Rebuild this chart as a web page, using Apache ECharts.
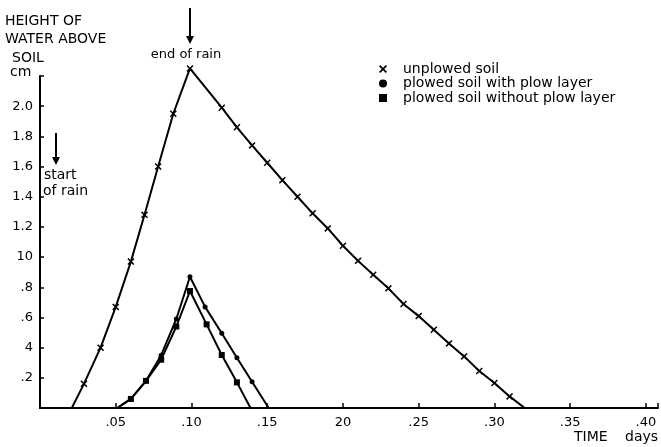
<!DOCTYPE html>
<html><head><meta charset="utf-8">
<script src="https://cdn.jsdelivr.net/npm/echarts@6/dist/echarts.min.js"></script>
<style>html,body{margin:0;padding:0;background:#fff}#c{width:661px;height:447px}</style>
</head><body><div id="c"></div>
<script>
// ---- data ----
const seriesNames = ['unplowed soil', 'plowed soil with plow layer', 'plowed soil without plow layer'];

const unplowedX = [0.021, 0.029, 0.040, 0.050, 0.060, 0.069, 0.078, 0.088, 0.099,
  0.12, 0.13, 0.14, 0.15, 0.16, 0.17, 0.18, 0.19, 0.20, 0.21, 0.22, 0.23, 0.24, 0.25,
  0.26, 0.27, 0.28, 0.29, 0.30, 0.31, 0.32];
const unplowedY = [0, 0.16, 0.40, 0.67, 0.97, 1.28, 1.60, 1.95, 2.25,
  1.99, 1.86, 1.74, 1.625, 1.51, 1.40, 1.29, 1.19, 1.075, 0.975, 0.883, 0.793, 0.689, 0.609,
  0.519, 0.428, 0.342, 0.245, 0.166, 0.077, 0];

const withLayerX = [0.051, 0.060, 0.070, 0.080, 0.090, 0.099, 0.109, 0.120, 0.130, 0.140, 0.151];
const withLayerY = [0, 0.06, 0.18, 0.35, 0.59, 0.87, 0.67, 0.495, 0.333, 0.174, 0];

const withoutLayerX = [0.051, 0.060, 0.070, 0.080, 0.090, 0.099, 0.110, 0.120, 0.130, 0.139];
const withoutLayerY = [0, 0.06, 0.18, 0.32, 0.54, 0.775, 0.554, 0.351, 0.170, 0];

const xTickValues = [0.05, 0.10, 0.15, 0.20, 0.25, 0.30, 0.35, 0.40];
const xTickLabels = ['.05', '.10', '.15', '20', '.25', '.30', '.35', '.40'];
const yTickValues = [0.2, 0.4, 0.6, 0.8, 1.0, 1.2, 1.4, 1.6, 1.8, 2.0];
const yTickLabels = ['.2', '4', '.6', '.8', '10', '1.2', '1.4', '1.6', '1.8', '2.0'];

// ---- styling ----
const FONT = 'DejaVu Sans';
const crossPath = 'path://M0,1.5 L1.5,0 L5,3.5 L8.5,0 L10,1.5 L6.5,5 L10,8.5 L8.5,10 L5,6.5 L1.5,10 L0,8.5 L3.5,5 Z';
const symbols = [crossPath, 'circle', 'rect'];
const symbolSizes = [7, 5, 6];

function pairs(xs, ys) {
  return xs.map((x, i) => {
    const item = { value: [x, ys[i]] };
    if (ys[i] === 0) item.symbol = 'none';
    return item;
  });
}
function lookup(values, labels, v) {
  for (let i = 0; i < values.length; i++) if (Math.abs(values[i] - v) < 1e-6) return labels[i];
  return '';
}

const chart = echarts.init(document.getElementById('c'), null, { renderer: 'canvas' });
const datasets = [[unplowedX, unplowedY], [withLayerX, withLayerY], [withoutLayerX, withoutLayerY]];

const arrowStyle = { stroke: '#000', lineWidth: 2 };
function arrow(x, y1, y2) {
  return [
    { type: 'line', shape: { x1: x, y1: y1, x2: x, y2: y2 - 3 }, style: arrowStyle, silent: true },
    { type: 'polygon', shape: { points: [[x - 4, y2 - 8], [x + 4, y2 - 8], [x, y2]] }, style: { fill: '#000' }, silent: true }
  ];
}
const txt = (x, y, t, size, align) => ({
  type: 'text', x: x, y: y, silent: true,
  style: { text: t, fill: '#000', font: `${size || 14}px "${FONT}"`, textAlign: align || 'left', textVerticalAlign: 'middle' }
});

chart.setOption({
  animation: false,
  backgroundColor: '#fff',
  grid: { left: 40, right: 0, top: 76, bottom: 39, containLabel: false },
  xAxis: {
    type: 'value', min: 0, max: 0.408, interval: 0.05,
    axisLine: { show: true, lineStyle: { color: '#000', width: 2 } },
    axisTick: { show: true, inside: true, length: 5, lineStyle: { color: '#000', width: 1.5 } },
    axisLabel: { color: '#000', fontFamily: FONT, fontSize: 13, margin: 8,
      formatter: v => lookup(xTickValues, xTickLabels, v) },
    splitLine: { show: false }
  },
  yAxis: {
    type: 'value', min: 0, max: 2.2, interval: 0.2,
    axisLine: { show: true, lineStyle: { color: '#000', width: 2 } },
    axisTick: { show: true, inside: true, length: 4, lineStyle: { color: '#000', width: 1.5 } },
    axisLabel: { color: '#000', fontFamily: FONT, fontSize: 13, margin: 7,
      formatter: v => lookup(yTickValues, yTickLabels, v) },
    splitLine: { show: false }
  },
  legend: {
    orient: 'vertical', left: 374, top: 57, itemWidth: 8, itemHeight: 8, itemGap: 0.5,
    textStyle: { color: '#000', fontFamily: FONT, fontSize: 14, lineHeight: 14, padding: [0, 0, 0, 11] },
    data: seriesNames.map((n, i) => ({ name: n, icon: symbols[i] }))
  },
  series: datasets.map((d, i) => ({
    name: seriesNames[i], type: 'line', clip: false,
    symbol: symbols[i], symbolSize: symbolSizes[i], showAllSymbol: true,
    lineStyle: { color: '#000', width: 2 },
    itemStyle: { color: '#000' },
    data: pairs(d[0], d[1]),
    z: 3 + i
  })),
  graphic: [
    txt(5, 21, 'HEIGHT OF'),
    txt(5, 39, 'WATER ABOVE'),
    txt(12, 58, 'SOIL'),
    txt(10, 72, 'cm'),
    txt(186, 55, 'end of rain', 13, 'center'),
    ...arrow(190, 8, 44),
    ...arrow(56, 133, 165),
    txt(44, 175, 'start', 14),
    txt(43, 191, 'of rain', 14),
    txt(574, 437, 'TIME', 14),
    txt(625, 437, 'days', 14)
  ]
});
</script></body></html>
